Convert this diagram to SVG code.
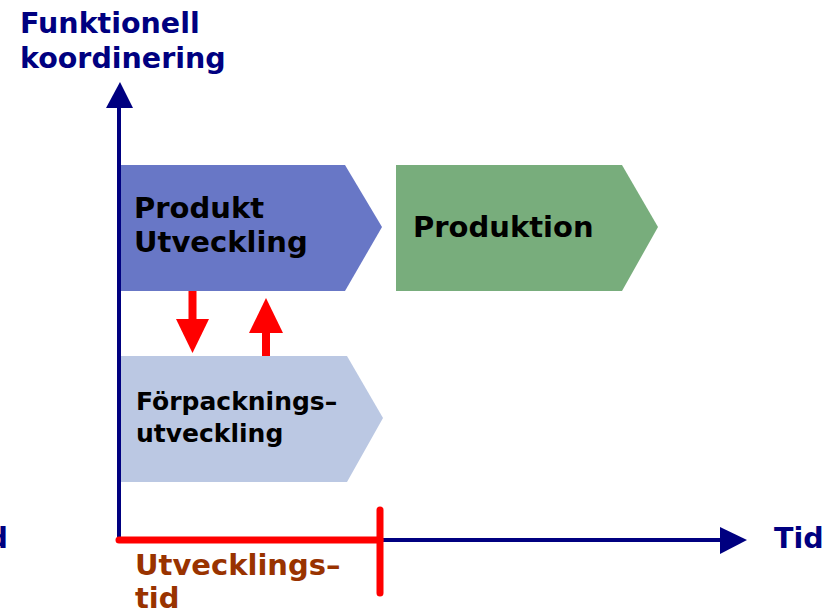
<svg xmlns="http://www.w3.org/2000/svg" width="833" height="613" viewBox="0 0 833 613">
<style>
text{font-family:"DejaVu Sans","Liberation Sans",sans-serif;font-weight:bold}
.axis{fill:#000080;font-size:28.5px}
.lbl{fill:#000000;font-size:29px}
.small{fill:#000000;font-size:25px}
.dev{fill:#993300;font-size:29px}
.ax{stroke:#000080;stroke-width:4;fill:none}
.red{stroke:#ff0000;stroke-width:7;stroke-linecap:round;fill:none}
</style>
<rect width="833" height="613" fill="#ffffff"/>
<g id="axes">
<line class="ax" x1="119" y1="540" x2="119" y2="104"/>
<polygon points="120,82 133,108 106,108" fill="#000080"/>
<line class="ax" x1="119" y1="540" x2="724" y2="540"/>
<polygon points="747,540 720,554 720,527" fill="#000080"/>
<text class="axis" x="20" y="33">Funktionell</text>
<text class="axis" x="20" y="68">koordinering</text>
<text class="axis" x="774" y="548">Tid</text>
<text class="axis" x="8" y="548" text-anchor="end">Tid</text>
</g>
<g id="produkt-utveckling">
<polygon points="121,165 345,165 382,227 345,291 121,291" fill="#6877C6"/>
<text class="lbl" x="134" y="218">Produkt</text>
<text class="lbl" x="134" y="252">Utveckling</text>
</g>
<g id="produktion">
<polygon points="396,165 622,165 658,227 622,291 396,291" fill="#78AD7C"/>
<text class="lbl" x="413" y="237">Produktion</text>
</g>
<g id="forpackningsutveckling">
<polygon points="121,356 347,356 383,418 347,482 121,482" fill="#BBC8E3"/>
<text class="small" x="136" y="410">Förpacknings–</text>
<text class="small" x="136" y="442">utveckling</text>
</g>
<g id="connectors">
<line x1="192.5" y1="291" x2="192.5" y2="321" stroke="#ff0000" stroke-width="8"/>
<polygon points="176,319 209,319 192.5,353" fill="#ff0000"/>
<line x1="266" y1="331" x2="266" y2="356" stroke="#ff0000" stroke-width="8"/>
<polygon points="249,333 283,333 266,298" fill="#ff0000"/>
</g>
<g id="utvecklingstid">
<line class="red" x1="119" y1="540" x2="380" y2="540"/>
<line class="red" x1="380" y1="510" x2="380" y2="593"/>
<text class="dev" x="135" y="575">Utvecklings–</text>
<text class="dev" x="135" y="608">tid</text>
</g>
</svg>
